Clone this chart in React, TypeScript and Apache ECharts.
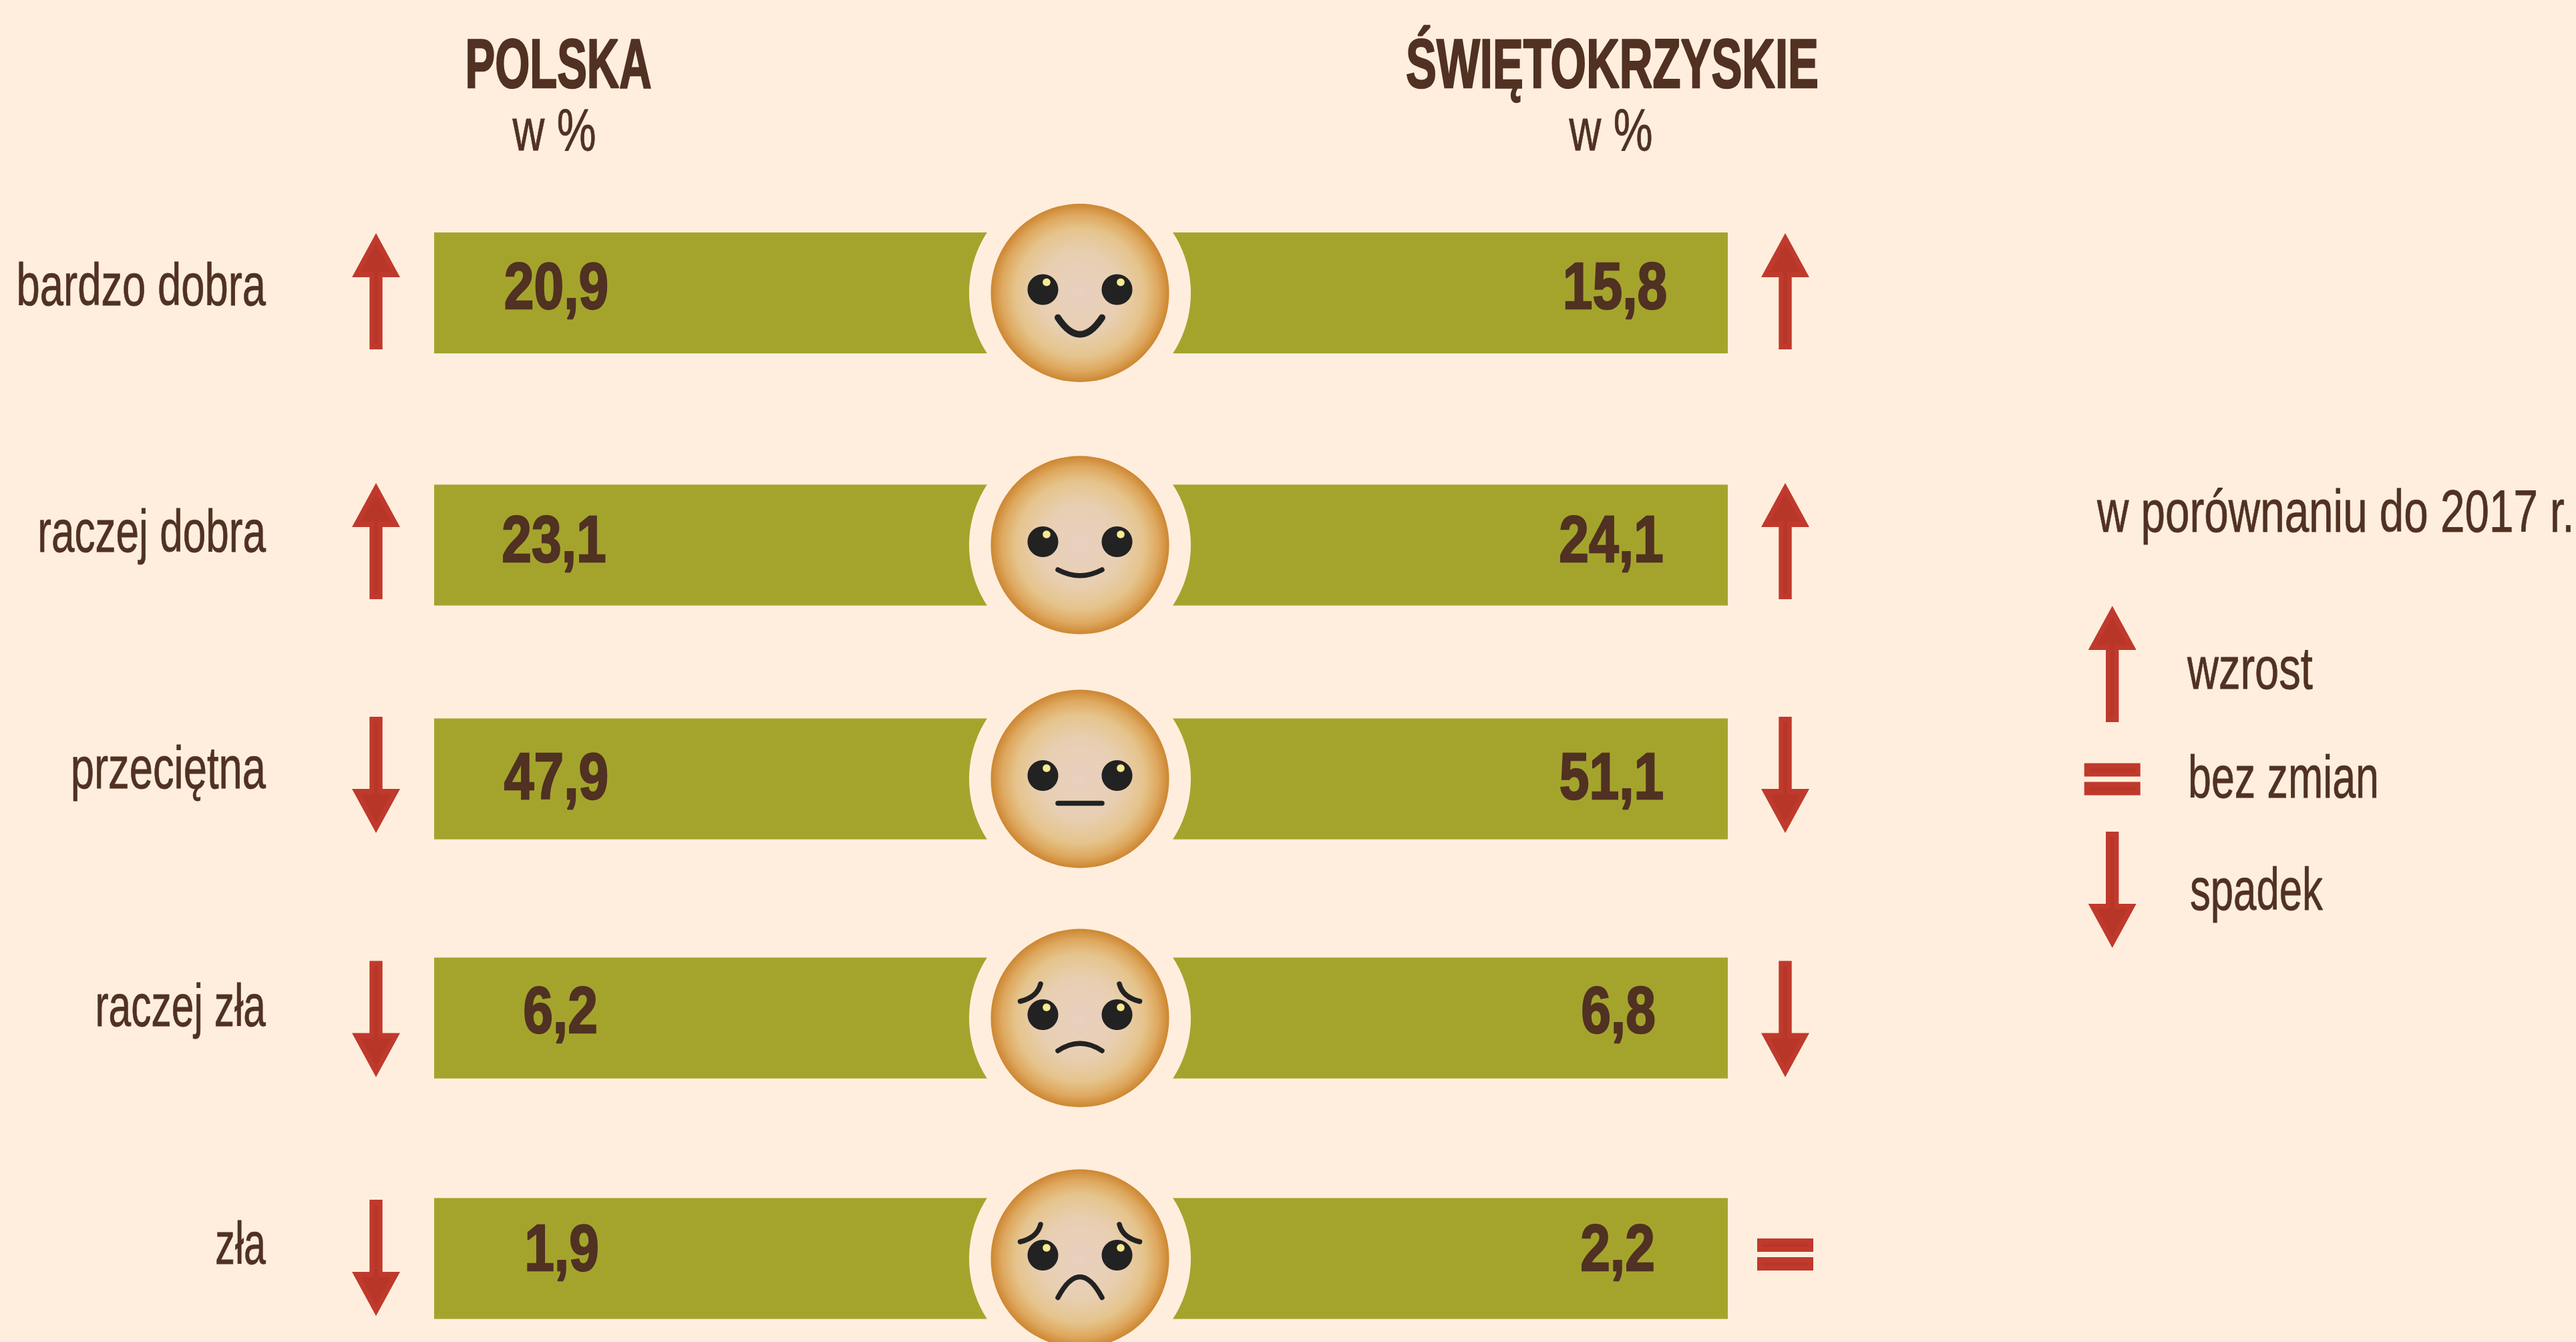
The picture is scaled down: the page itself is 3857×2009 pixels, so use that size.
import React, { useEffect, useRef } from "react";
import * as echarts from "echarts";

const categories = ["bardzo dobra", "raczej dobra", "przeciętna", "raczej zła", "zła"];
const polskaValues = [20.9, 23.1, 47.9, 6.2, 1.9];
const swietokrzyskieValues = [15.8, 24.1, 51.1, 6.8, 2.2];
const polskaChange = ["up", "up", "down", "down", "down"];
const swietokrzyskieChange = ["up", "up", "down", "down", "equal"];
const moods = ["great", "good", "neutral", "bad", "awful"];
const legendItems = [
  { kind: "up", label: "wzrost" },
  { kind: "equal", label: "bez zmian" },
  { kind: "down", label: "spadek" },
];

const W = 3857;
const H = 2009;
const BG = "#FFEEDD";
const BAR = "#A4A42D";
const INK = "#503122";
const RED = "#C0392D";
const RED_DARK = "#B73628";
const FONT = '"Liberation Sans", sans-serif';

const rowCenters = [438.5, 816, 1166, 1524, 1884];
const BAR_H = 181;
const BAR_LEFT = 650;
const BAR_RIGHT = 2587;
const FACE_X = 1617;
const LEFT_ARROW_X = 563;
const RIGHT_ARROW_X = 2673;
const arrowTopOffsets = [-89.5, -93, -93, -85.5, -88];
const labelBaselines = [457, 826, 1180, 1536, 1892];
const labelScales = [0.712, 0.698, 0.712, 0.68, 0.665];
const valueBaselines = [462.5, 840.6, 1195.7, 1546.5, 1901.7];
const leftValueX = [833, 829.5, 833, 839, 841];
const rightValueX = [2418, 2412.5, 2413, 2423, 2422];

const fmt = (v: number) => v.toFixed(1).replace(".", ",");

function arrowEls(kind: string, cx: number, top: number) {
  const hw = 36;
  const sw = 9.7;
  const h = 174;
  const head = 66;
  const stripe = (x: number, y: number, width: number, height: number) => ({
    type: "rect",
    z: 6,
    shape: { x, y, width, height },
    style: { fill: RED_DARK },
  });
  if (kind === "up") {
    const poly = [[cx, top], [cx + hw, top + head], [cx + sw, top + head], [cx + sw, top + h], [cx - sw, top + h], [cx - sw, top + head], [cx - hw, top + head]];
    const inner = [[cx, top + 16], [cx + 22.7, top + head - 8], [cx - 22.7, top + head - 8]];
    return [
      { type: "polygon", z: 5, shape: { points: poly }, style: { fill: RED } },
      { type: "polygon", z: 6, shape: { points: inner }, style: { fill: RED_DARK } },
      stripe(cx - 2.7, top + head - 8, 5.4, h - head),
    ];
  }
  if (kind === "down") {
    const b = top + h;
    const poly = [[cx, b], [cx + hw, b - head], [cx + sw, b - head], [cx + sw, top], [cx - sw, top], [cx - sw, b - head], [cx - hw, b - head]];
    const inner = [[cx, b - 16], [cx + 22.7, b - head + 8], [cx - 22.7, b - head + 8]];
    return [
      { type: "polygon", z: 5, shape: { points: poly }, style: { fill: RED } },
      { type: "polygon", z: 6, shape: { points: inner }, style: { fill: RED_DARK } },
      stripe(cx - 2.7, top + 8, 5.4, h - head),
    ];
  }
  return [
    { type: "rect", z: 5, shape: { x: cx - 42, y: top, width: 84, height: 20 }, style: { fill: RED } },
    { type: "rect", z: 5, shape: { x: cx - 42, y: top + 28, width: 84, height: 20 }, style: { fill: RED } },
    stripe(cx - 34, top + 8, 68, 4.5),
    stripe(cx - 34, top + 36, 68, 4.5),
  ];
}

function faceEls(mood: string, cy: number) {
  const cx = FACE_X;
  const ink = "#222222";
  const els: any[] = [
    { type: "circle", z: 8, shape: { cx, cy, r: 166 }, style: { fill: BG } },
    {
      type: "circle",
      z: 9,
      shape: { cx, cy, r: 133.5 },
      style: {
        fill: new echarts.graphic.RadialGradient(0.5, 0.5, 0.5, [
          { offset: 0, color: "#E9D0C0" },
          { offset: 0.45, color: "#E8CFB2" },
          { offset: 0.72, color: "#E5C48C" },
          { offset: 0.88, color: "#DEA85E" },
          { offset: 1, color: "#CD8631" },
        ]),
      },
    },
  ];
  [-55.5, 55.5].forEach((dx) => {
    els.push({ type: "circle", z: 10, shape: { cx: cx + dx, cy: cy - 5, r: 23 }, style: { fill: ink } });
    els.push({ type: "circle", z: 11, shape: { cx: cx + dx + 5.5, cy: cy - 16, r: 5.8 }, style: { fill: "#FBE98F" } });
  });
  const mouths: Record<string, [number, number, number]> = {
    great: [37, 87, 10],
    good: [37, 54.5, 7.5],
    neutral: [36.5, 36.5, 7.5],
    bad: [49, 27, 7.5],
    awful: [58.5, -3.5, 7.5],
  };
  const [endY, ctrlY, lw] = mouths[mood];
  if (mood === "neutral") {
    els.push({ type: "line", z: 10, shape: { x1: cx - 33, y1: cy + endY, x2: cx + 33, y2: cy + endY }, style: { stroke: ink, lineWidth: lw, lineCap: "round" } });
  } else {
    els.push({
      type: "bezierCurve",
      z: 10,
      shape: { x1: cx - 33, y1: cy + endY, x2: cx + 33, y2: cy + endY, cpx1: cx, cpy1: cy + ctrlY },
      style: { stroke: ink, fill: "none", lineWidth: lw, lineCap: "round" },
    });
  }
  if (mood === "bad" || mood === "awful") {
    [-1, 1].forEach((s) => {
      els.push({
        type: "bezierCurve",
        z: 10,
        shape: { x1: cx + s * 89.5, y1: cy - 25, x2: cx + s * 59, y2: cy - 51, cpx1: cx + s * 64, cpy1: cy - 31 },
        style: { stroke: ink, fill: "none", lineWidth: 7.5, lineCap: "round" },
      });
    });
  }
  return els;
}

function textEl(text: string, x: number, baseline: number, size: number, scaleX: number, align: string, weight = "normal") {
  return {
    type: "text",
    z: 12,
    x,
    y: baseline - 0.3465 * size,
    scaleX,
    style: {
      text,
      fill: INK,
      stroke: INK,
      lineWidth: weight === "bold" ? 2.5 : 0.8,
      font: `${weight} ${size}px ${FONT}`,
      align,
      verticalAlign: "middle",
    },
  };
}

function buildOption() {
  const grids: any[] = [];
  const xAxes: any[] = [];
  const yAxes: any[] = [];
  const series: any[] = [];
  const addBar = (name: string, values: number[], row: number, left: number, width: number) => {
    const i = grids.length;
    grids.push({ left, width, top: rowCenters[row] - BAR_H / 2, height: BAR_H, containLabel: false });
    xAxes.push({ type: "value", gridIndex: i, min: 0, max: values[row], show: false });
    yAxes.push({ type: "category", gridIndex: i, data: [categories[row]], show: false });
    series.push({
      type: "bar",
      name,
      xAxisIndex: i,
      yAxisIndex: i,
      data: [values[row]],
      barWidth: "100%",
      itemStyle: { color: BAR },
      silent: true,
    });
  };
  categories.forEach((_, r) => {
    addBar("POLSKA", polskaValues, r, BAR_LEFT, FACE_X - BAR_LEFT);
    addBar("ŚWIĘTOKRZYSKIE", swietokrzyskieValues, r, FACE_X, BAR_RIGHT - FACE_X);
  });

  const elements: any[] = [];
  elements.push(textEl("POLSKA", 836, 131, 103, 0.65, "center", "bold"));
  elements.push(textEl("ŚWIĘTOKRZYSKIE", 2414, 131, 103, 0.668, "center", "bold"));
  elements.push(textEl("w %", 830, 225, 89, 0.744, "center"));
  elements.push(textEl("w %", 2412, 225, 89, 0.744, "center"));
  categories.forEach((c, r) => {
    elements.push(textEl(c, 398, labelBaselines[r], 89, labelScales[r], "right"));
    elements.push(textEl(fmt(polskaValues[r]), leftValueX[r], valueBaselines[r], 98, 0.82, "center", "bold"));
    elements.push(textEl(fmt(swietokrzyskieValues[r]), rightValueX[r], valueBaselines[r], 98, 0.82, "center", "bold"));
    elements.push(...faceEls(moods[r], rowCenters[r]));
    elements.push(...arrowEls(polskaChange[r], LEFT_ARROW_X, rowCenters[r] + arrowTopOffsets[r]));
    const k = swietokrzyskieChange[r];
    elements.push(...arrowEls(k, RIGHT_ARROW_X, k === "equal" ? 1854 : rowCenters[r] + arrowTopOffsets[r]));
  });
  elements.push(textEl("w porównaniu do 2017 r.", 3140, 796, 89, 0.737, "left"));
  const legendTops = [907, 1142.5, 1245];
  const legendBase = [1031, 1193.5, 1362.5];
  const legendTextX = [3275, 3276, 3279];
  const legendScales = [0.73, 0.705, 0.693];
  legendItems.forEach((it, i) => {
    elements.push(...arrowEls(it.kind, 3162.7, legendTops[i]));
    elements.push(textEl(it.label, legendTextX[i], legendBase[i], 89, legendScales[i], "left"));
  });

  return {
    animation: false,
    backgroundColor: BG,
    grid: grids,
    xAxis: xAxes,
    yAxis: yAxes,
    series,
    graphic: { elements },
  };
}

export default function App() {
  const ref = useRef<HTMLDivElement>(null);
  useEffect(() => {
    document.body.style.margin = "0";
    document.body.style.background = BG;
    const chart = echarts.init(ref.current!, undefined, { renderer: "svg", width: W, height: H });
    chart.setOption(buildOption() as any);
    return () => chart.dispose();
  }, []);
  return <div ref={ref} style={{ width: W, height: H }} />;
}
